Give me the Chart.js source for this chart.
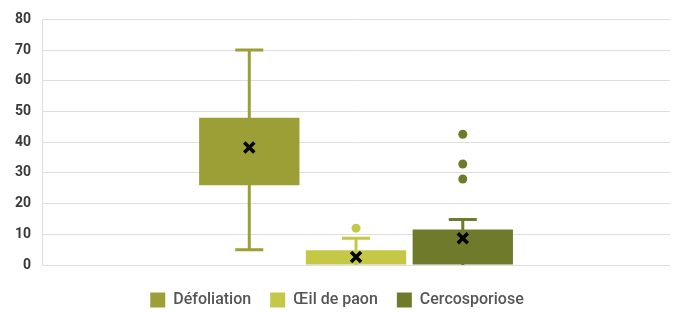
<!DOCTYPE html>
<html><head><meta charset="utf-8">
<script src="https://cdn.jsdelivr.net/npm/chart.js@4"></script>
<style>html,body{margin:0;padding:0;background:#fff}#wrap{width:678px;height:312px}</style>
</head><body><div id="wrap"><canvas id="c" width="678" height="312"></canvas></div>
<script>
const seriesNames = ['Défoliation', 'Œil de paon', 'Cercosporiose'];
const seriesColors = ['#9c9f36', '#c4c846', '#6f7b2a'];
const q1 = [26, 0, 0];
const q3 = [48, 4.8, 11.6];
const whiskerLow = [5, 0, 0];
const whiskerHigh = [70, 8.7, 14.8];
const means = [38.3, 2.6, 8.7];
const outliers = [[], [12], [42.6, 32.9, 28]];
const yTicks = [0, 10, 20, 30, 40, 50, 60, 70, 80];

const legendFit = {
  id: 'legendFit',
  afterInit(chart) {
    const lg = chart.legend;
    const orig = lg.fit;
    lg.fit = function () { orig.call(this); this.height = 39; };
  }
};

const boxPlugin = {
  id: 'boxExtras',
  beforeDatasetsDraw(chart) {
    const ctx = chart.ctx, y = chart.scales.y;
    chart.data.datasets.forEach((ds, i) => {
      const bar = chart.getDatasetMeta(i).data[0];
      const x = bar.x;
      ctx.save();
      ctx.strokeStyle = seriesColors[i];
      ctx.lineWidth = 3;
      ctx.beginPath();
      ctx.moveTo(x, y.getPixelForValue(whiskerHigh[i]));
      ctx.lineTo(x, y.getPixelForValue(whiskerLow[i]));
      const cw = 14;
      [whiskerHigh[i], whiskerLow[i]].forEach(v => {
        if (v > 0) {
          ctx.moveTo(x - cw, y.getPixelForValue(v));
          ctx.lineTo(x + cw, y.getPixelForValue(v));
        }
      });
      ctx.stroke();
      ctx.restore();
    });
  },
  afterDatasetsDraw(chart) {
    const ctx = chart.ctx, y = chart.scales.y;
    chart.data.datasets.forEach((ds, i) => {
      const x = chart.getDatasetMeta(i).data[0].x;
      ctx.save();
      ctx.fillStyle = seriesColors[i];
      outliers[i].forEach(v => {
        ctx.beginPath();
        ctx.arc(x, y.getPixelForValue(v), 4.5, 0, Math.PI * 2);
        ctx.fill();
      });
      const my = y.getPixelForValue(means[i]);
      ctx.strokeStyle = '#000';
      ctx.lineWidth = 3.5;
      ctx.lineCap = 'butt';
      const s = 5;
      ctx.beginPath();
      ctx.moveTo(x - s, my - s); ctx.lineTo(x + s, my + s);
      ctx.moveTo(x + s, my - s); ctx.lineTo(x - s, my + s);
      ctx.stroke();
      ctx.restore();
    });
  }
};

new Chart(document.getElementById('c'), {
  type: 'bar',
  data: {
    labels: [''],
    datasets: seriesNames.map((n, i) => ({
      label: n,
      data: [[q1[i], q3[i]]],
      backgroundColor: seriesColors[i],
      borderWidth: 0,
      barPercentage: 0.94,
      categoryPercentage: 0.51
    }))
  },
  options: {
    responsive: false,
    animation: false,
    layout: { padding: { top: 9, right: 8, left: 4, bottom: 0 } },
    plugins: {
      legend: {
        position: 'bottom',
        labels: { boxWidth: 15, boxHeight: 15, padding: 19, color: '#555',
          font: { family: 'Roboto', size: 16, weight: '500' } }
      },
      tooltip: { enabled: false }
    },
    scales: {
      x: { grid: { display: false }, border: { display: false }, ticks: { display: false } },
      y: {
        min: 0, max: 80,
        afterBuildTicks: s => { s.ticks = yTicks.map(v => ({ value: v })); },
        grid: { color: '#e2dcdc', lineWidth: 1, drawTicks: false },
        border: { display: true, color: '#e2dcdc' },
        ticks: { color: '#3a3a3a', padding: 11, font: { family: 'Roboto', size: 14, weight: 'bold' } }
      }
    }
  },
  plugins: [legendFit, boxPlugin]
});
</script></body></html>
